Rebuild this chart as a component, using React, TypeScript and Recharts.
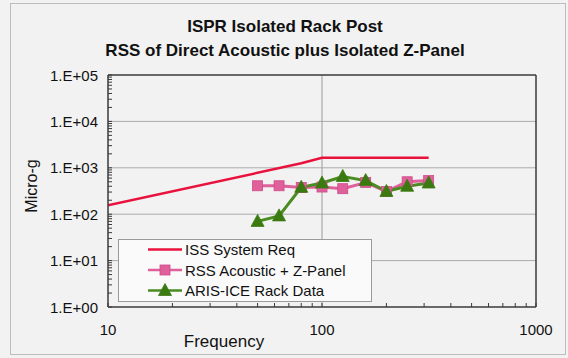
import { Legend, Line, LineChart, ReferenceLine, XAxis, YAxis } from "recharts";

// ISS requirement curve (Hz, micro-g)
const reqFreq = [10, 80, 100, 315];
const reqLevel = [155, 1250, 1650, 1650];

// third-octave band centres for the measured series
const bandFreq = [50, 63, 80, 100, 125, 160, 200, 250, 315];
const rssLevel = [410, 410, 375, 385, 355, 480, 310, 500, 530];
const arisLevel = [70, 92, 380, 470, 650, 530, 310, 400, 470];

const xMajor = [10, 100, 1000];
const yMajor = [1, 10, 100, 1000, 10000, 100000];
const minorSteps = [2, 3, 4, 5, 6, 7, 8, 9];
const yLabels = ["1.E+00", "1.E+01", "1.E+02", "1.E+03", "1.E+04", "1.E+05"];

const titleLines = ["ISPR Isolated Rack Post", "RSS of Direct Acoustic plus Isolated Z-Panel"];

const FONT = '"Liberation Sans", Arial, Helvetica, sans-serif';
const RED = "#e8123c";
const PINK = "#e0609c";
const GREEN = "#4a8c20";
const GREEN_DARK = "#3a7a10";
const AXIS = "#3a3a3a";
const GRID = "#ababab";

const withMinor = (majors: number[]) => {
  const out: number[] = [];
  majors.forEach((m, i) => {
    out.push(m);
    if (i < majors.length - 1) minorSteps.forEach((s) => out.push(m * s));
  });
  return out;
};
const xTicks = withMinor(xMajor);
const yTicks = withMinor(yMajor);

const reqData = reqFreq.map((f, i) => ({ f, v: reqLevel[i] }));
const rssData = bandFreq.map((f, i) => ({ f, v: rssLevel[i] }));
const arisData = bandFreq.map((f, i) => ({ f, v: arisLevel[i] }));

const textStyle = { fontFamily: FONT, fontSize: 15, fill: "#111" };

function SquareDot(props: any) {
  const { cx, cy } = props;
  if (cx == null || cy == null) return null;
  return <rect x={cx - 5} y={cy - 5} width={10} height={10} fill={PINK} stroke="#cc4c88" strokeWidth={0.8} />;
}

function TriangleDot(props: any) {
  const { cx, cy } = props;
  if (cx == null || cy == null) return null;
  return (
    <polygon
      points={`${cx},${cy - 7} ${cx - 6.5},${cy + 5} ${cx + 6.5},${cy + 5}`}
      fill={GREEN_DARK}
      stroke={GREEN_DARK}
      strokeWidth={0.8}
    />
  );
}

function XTick(props: any) {
  const { x, y, payload } = props;
  const idx = xMajor.indexOf(payload.value);
  return (
    <g>
      <line x1={x} x2={x} y1={y} y2={y - 4} stroke={AXIS} />
      {idx >= 0 && (
        <text x={x} y={y + 22} textAnchor="middle" dominantBaseline="central" style={textStyle}>
          {xMajor[idx]}
        </text>
      )}
    </g>
  );
}

function YTick(props: any) {
  const { x, y, payload } = props;
  const idx = yMajor.indexOf(payload.value);
  return (
    <g>
      <line x1={x} x2={x + 4} y1={y} y2={y} stroke={AXIS} />
      {idx >= 0 && (
        <text x={x - 10} y={y} textAnchor="end" dominantBaseline="central" style={textStyle}>
          {yLabels[idx]}
        </text>
      )}
    </g>
  );
}

function YTitle(props: any) {
  const vb = props.viewBox ?? { x: 10, y: 75, width: 98, height: 232 };
  const cx = vb.x + 21;
  const cy = vb.y + vb.height / 2 - 5;
  return (
    <text
      x={cx}
      y={cy}
      transform={`rotate(-90 ${cx} ${cy})`}
      textAnchor="middle"
      dominantBaseline="central"
      style={{ fontFamily: FONT, fontSize: 16, fill: "#111" }}
    >
      Micro-g
    </text>
  );
}

const legendItems = [
  { name: "ISS System Req", color: RED, marker: "none" },
  { name: "RSS Acoustic + Z-Panel", color: PINK, marker: "square" },
  { name: "ARIS-ICE Rack Data", color: GREEN, marker: "triangle" },
];

function LegendBox() {
  return (
    <svg width={254} height={63} style={{ display: "block" }}>
      <rect x={0.5} y={0.5} width={253} height={62} fill="#fafafa" stroke="#9a9a9a" />
      {legendItems.map((it, i) => {
        const cy = 10.5 + i * 20.5;
        return (
          <g key={it.name}>
            <line x1={30} x2={64} y1={cy} y2={cy} stroke={it.color} strokeWidth={2.5} />
            {it.marker === "square" && <SquareDot cx={47} cy={cy} />}
            {it.marker === "triangle" && <TriangleDot cx={47} cy={cy} />}
            <text x={67} y={cy} dominantBaseline="central" style={textStyle}>
              {it.name}
            </text>
          </g>
        );
      })}
    </svg>
  );
}

export default function App() {
  return (
    <div
      style={{
        position: "absolute",
        left: 0,
        top: 0,
        width: 568,
        height: 358,
        background: "#f2f2f2",
        overflow: "hidden",
      }}
    >
      <div
        style={{
          position: "absolute",
          left: 10,
          top: 3,
          width: 554,
          height: 350,
          border: "1px solid #bdbdbd",
        }}
      />
      <div
        style={{
          position: "absolute",
          left: 0,
          top: 15,
          width: 570,
          textAlign: "center",
          fontFamily: FONT,
          fontWeight: "bold",
          fontSize: 17,
          lineHeight: "24px",
          color: "#111",
        }}
      >
        {titleLines.map((t) => (
          <div key={t}>{t}</div>
        ))}
      </div>
      <div style={{ position: "absolute", left: 0, top: 0 }}>
        <LineChart width={568} height={358} margin={{ top: 75, right: 32, bottom: 8, left: 10 }}>
          <XAxis
            dataKey="f"
            type="number"
            scale="log"
            domain={[10, 1000]}
            ticks={xTicks}
            interval={0}
            tickSize={0}
            tickMargin={0}
            tickLine={false}
            tick={<XTick />}
            axisLine={{ stroke: AXIS, strokeWidth: 1.5 }}
            height={43}
            allowDataOverflow
            label={{
              value: "Frequency",
              position: "insideBottom",
              offset: 3,
              dx: -98,
              style: { fontFamily: FONT, fontSize: 17, fill: "#111" },
            }}
          />
          <YAxis
            dataKey="v"
            type="number"
            scale="log"
            domain={[1, 100000]}
            ticks={yTicks}
            interval={0}
            tickSize={0}
            tickMargin={0}
            tickLine={false}
            tick={<YTick />}
            axisLine={{ stroke: AXIS, strokeWidth: 1.5 }}
            width={98}
            allowDataOverflow
            label={{ content: <YTitle /> }}
          />
          {[10, 100, 1000, 10000].map((v) => (
            <ReferenceLine key={v} y={v} stroke={GRID} strokeWidth={1} />
          ))}
          <ReferenceLine x={100} stroke="#9a9a9a" strokeWidth={1} />
          <ReferenceLine y={100000} stroke={AXIS} strokeWidth={1.5} />
          <ReferenceLine x={1000} stroke={AXIS} strokeWidth={1.5} />
          <Line
            data={reqData}
            dataKey="v"
            name="ISS System Req"
            type="linear"
            stroke={RED}
            strokeWidth={2.5}
            dot={false}
            isAnimationActive={false}
          />
          <Line
            data={rssData}
            dataKey="v"
            name="RSS Acoustic + Z-Panel"
            type="linear"
            stroke={PINK}
            strokeWidth={3}
            dot={<SquareDot />}
            isAnimationActive={false}
          />
          <Line
            data={arisData}
            dataKey="v"
            name="ARIS-ICE Rack Data"
            type="linear"
            stroke={GREEN}
            strokeWidth={3}
            dot={<TriangleDot />}
            isAnimationActive={false}
          />
          <Legend
            layout="vertical"
            align="center"
            verticalAlign="middle"
            wrapperStyle={{ left: 118, top: 239, width: 254, height: 63 }}
            content={() => <LegendBox />}
          />
        </LineChart>
      </div>
    </div>
  );
}
